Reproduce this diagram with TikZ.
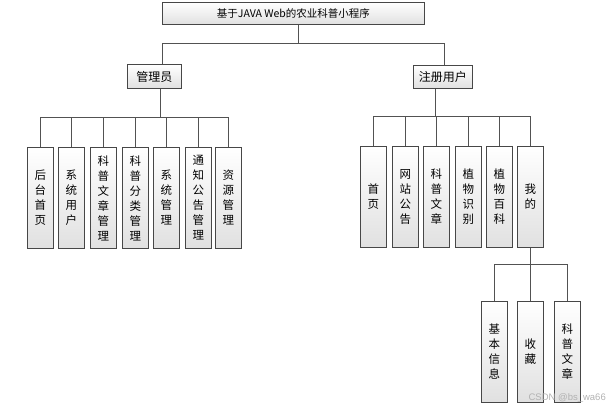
\documentclass[tikz,border=0pt]{standalone}
\usepackage{fontspec}
\newfontfamily\cjk{Noto Sans CJK SC}
\newfontfamily\wmfont{Liberation Sans}
\begin{document}
\begin{tikzpicture}[x=1pt,y=-1pt,
  box/.style={draw=black!72, line width=0.9pt, top color=white, bottom color=black!12,
    inner sep=0pt, anchor=north west, font=\cjk\fontsize{11.5}{15}\selectfont, align=center},
  vbox/.style={box, minimum width=26pt, minimum height=101pt},
  conn/.style={draw=black!68, line width=1pt}]
\useasboundingbox (0,0) rectangle (613,411);
% root
\node[box, minimum width=262pt, minimum height=22pt, font=\cjk\fontsize{10.5}{12}\selectfont] (top) at (162,2) {基于JAVA Web的农业科普小程序};
\node[box, minimum width=54pt, minimum height=24pt, font=\cjk\fontsize{12}{14}\selectfont] (mgr) at (127,64) {管理员};
\node[box, minimum width=59pt, minimum height=23pt, font=\cjk\fontsize{12}{14}\selectfont] (reg) at (413,65) {注册用户};
% manager children
\node[vbox] (m1) at (27,147) {后\\台\\首\\页};
\node[vbox] (m2) at (58,147) {系\\统\\用\\户};
\node[vbox] (m3) at (90,147) {科\\普\\文\\章\\管\\理};
\node[vbox] (m4) at (122,147) {科\\普\\分\\类\\管\\理};
\node[vbox] (m5) at (153,147) {系\\统\\管\\理};
\node[vbox] (m6) at (185,147) {通\\知\\公\\告\\管\\理};
\node[vbox] (m7) at (215,147) {资\\源\\管\\理};
% register children
\node[vbox] (r1) at (360,146) {首\\页};
\node[vbox] (r2) at (392,146) {网\\站\\公\\告};
\node[vbox] (r3) at (423,146) {科\\普\\文\\章};
\node[vbox] (r4) at (455,146) {植\\物\\识\\别};
\node[vbox] (r5) at (486,146) {植\\物\\百\\科};
\node[vbox] (r6) at (517,146) {我\\的};
% mine children
\node[vbox] (s1) at (481,301) {基\\本\\信\\息};
\node[vbox] (s2) at (517,301) {收\\藏};
\node[vbox] (s3) at (554,301) {科\\普\\文\\章};
% bar levels
\coordinate (b0) at (0,44);
\coordinate (b1) at (0,118);
\coordinate (b2) at (0,117);
\coordinate (b3) at (0,265);
% level 1
\draw[conn] ([xshift=5pt]top.south) -- ([xshift=5pt]top.south |- b0);
\draw[conn] ([xshift=8pt]mgr.north) |- ([xshift=1.5pt]reg.north |- b0) -- ([xshift=1.5pt]reg.north);
% manager
\draw[conn] ([xshift=6pt]mgr.south) -- ([xshift=6pt]mgr.south |- b1);
\draw[conn] (m1.north) |- (m7.north |- b1) -- (m7.north);
\foreach \n in {m2,m3,m4,m5,m6} \draw[conn] (\n.north) -- (\n.north |- b1);
% register
\draw[conn] ([xshift=-7.5pt]reg.south) -- ([xshift=-7.5pt]reg.south |- b2);
\draw[conn] (r1.north) |- (r6.north |- b2) -- (r6.north);
\foreach \n in {r2,r3,r4,r5} \draw[conn] (\n.north) -- (\n.north |- b2);
% mine
\draw[conn] (r6.south) -- (r6.south |- b3);
\draw[conn] (s1.north) |- (s3.north |- b3) -- (s3.north);
\draw[conn] (s2.north) -- (s2.north |- b3);
% watermark
\node[font=\wmfont\fontsize{9.5}{11}\selectfont, text=black!30, anchor=east, inner sep=0pt] (wm) at (606,398) {CSDN @bs\_wa66};
\end{tikzpicture}
\end{document}
